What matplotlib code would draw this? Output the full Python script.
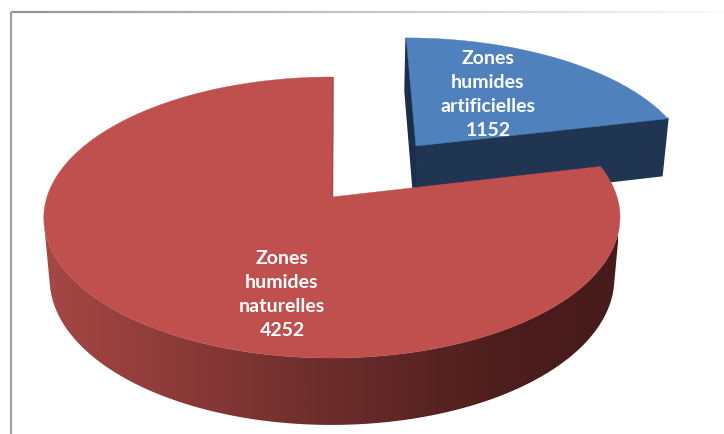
import numpy as np
import matplotlib
matplotlib.use("Agg")
import matplotlib.pyplot as plt
from matplotlib.patches import Polygon
from matplotlib.colors import LinearSegmentedColormap
from matplotlib.collections import LineCollection

# ---- data ----
categories = ["Zones humides artificielles", "Zones humides naturelles"]
values = [1152, 4252]
labels = ["Zones\nhumides\nartificielles\n1152", "Zones\nhumides\nnaturelles\n4252"]

# ---- style ----
explode = [0.5, 0.0]
top_colors = ["#4F81BD", "#C0504D"]
side_cmaps = [
    LinearSegmentedColormap.from_list("bs", [(0, "#2A4A72"), (1, "#1A2C45")]),
    LinearSegmentedColormap.from_list("rs", [(0.0, "#A84845"), (0.5, "#6C2D2B"),
                                             (0.8, "#4C1E1D"), (1.0, "#471B1B")]),
]
cut_colors = [("#1F3552", "#1B2F4A"), ("#9E3F3C", "#7A2F2D")]
label_pos = [(488, 94), (282, 295)]

W, H = 724, 434
fig = plt.figure(figsize=(W / 100, H / 100), dpi=100)
ax = fig.add_axes([0, 0, 1, 1])
ax.set_xlim(0, W)
ax.set_ylim(H, 0)
ax.axis("off")

# ---- perspective camera ----
theta = np.radians(28.85)
s, c = np.sin(theta), np.cos(theta)
L, f = 6.0, 1710.0
camx = 0.015
cx0, cy0 = 332.0 + f * camx / L, 197.0
h = 0.247
cam = np.array([camx, -L * c, L * s])


def proj(X, Y, Z):
    X = np.atleast_1d(np.asarray(X, float))
    Y = np.atleast_1d(np.asarray(Y, float))
    Z = np.broadcast_to(np.asarray(Z, float), X.shape)
    xc = X - camx
    yc = Y * s + Z * c
    zc = L + Y * c - Z * s
    return np.column_stack([cx0 + f * xc / zc, cy0 - f * yc / zc])


total = float(sum(values))
spans = [v / total * 360.0 for v in values]
slices = []
start = 90.0
for i, sp in enumerate(spans):
    a1 = start
    a0 = start - sp
    start = a0
    mid = np.radians((a0 + a1) / 2)
    ox, oy = explode[i] * np.cos(mid), explode[i] * np.sin(mid)
    slices.append(dict(i=i, a0=a0, a1=a1, ox=ox, oy=oy))

# draw back slices first
slices.sort(key=lambda d: -d["oy"])

z = 1
for sl in slices:
    i, a0, a1, ox, oy = sl["i"], sl["a0"], sl["a1"], sl["ox"], sl["oy"]
    ang = np.radians(np.linspace(a0, a1, 600))
    rx, ry = ox + np.cos(ang), oy + np.sin(ang)

    # outer side (visible part)
    P = np.column_stack([rx, ry, np.full_like(rx, -h / 2)])
    n = np.column_stack([np.cos(ang), np.sin(ang), np.zeros_like(ang)])
    vis = np.einsum("ij,ij->i", n, cam - P) > 0
    if vis.any():
        idx = np.where(vis)[0]
        top = proj(rx[idx], ry[idx], 0.0)
        bot = proj(rx[idx], ry[idx], -h)
        poly = Polygon(np.vstack([top, bot[::-1]]), closed=True,
                       facecolor="none", edgecolor="none")
        ax.add_patch(poly)
        grad = np.linspace(0, 1, W).reshape(1, -1)
        im = ax.imshow(grad, extent=[36, 618, H, 0], cmap=side_cmaps[i],
                       aspect="auto", zorder=z)
        im.set_clip_path(poly)
        z += 1

    # radial cut faces
    for k, (a, nrm) in enumerate([
        (a0, (np.sin(np.radians(a0)), -np.cos(np.radians(a0)))),
        (a1, (-np.sin(np.radians(a1)), np.cos(np.radians(a1)))),
    ]):
        ar = np.radians(a)
        ex, ey = ox + np.cos(ar), oy + np.sin(ar)
        Pc = np.array([(ox + ex) / 2, (oy + ey) / 2, -h / 2])
        if np.dot(np.array([nrm[0], nrm[1], 0.0]), cam - Pc) > 0:
            quad = np.vstack([proj([ox, ex], [oy, ey], 0.0),
                              proj([ex, ox], [ey, oy], -h)])
            col = cut_colors[i][k]
            ax.add_patch(Polygon(quad, closed=True, facecolor=col,
                                 edgecolor=col, lw=1.2, zorder=z))
            z += 1

    # top face
    topface = np.vstack([proj(ox, oy, 0.0), proj(rx, ry, 0.0)])
    ax.add_patch(Polygon(topface, closed=True, facecolor=top_colors[i],
                         edgecolor=top_colors[i], lw=0.3, zorder=z))
    z += 1

# labels
for i, lab in enumerate(labels):
    ax.text(label_pos[i][0], label_pos[i][1], lab, ha="center", va="center",
            color="white", fontsize=14, fontweight="bold", family="Lato",
            linespacing=1.5, zorder=z + 5)

# chart-area frame (left line and fading top line)
ax.plot([11, 11], [12, H], color="#A0A0A0", lw=1.6, zorder=z + 6,
        solid_capstyle="butt")
xs = np.linspace(11, W, 120)
segs = [[(xs[j], 12), (xs[j + 1], 12)] for j in range(len(xs) - 1)]
t = np.linspace(0, 1, len(segs))
cols = [(0.58 + 0.4 * tt, 0.58 + 0.4 * tt, 0.58 + 0.4 * tt) for tt in t]
ax.add_collection(LineCollection(segs, colors=cols, linewidths=1.6, zorder=z + 6))

fig.savefig("out.png", dpi=100)
